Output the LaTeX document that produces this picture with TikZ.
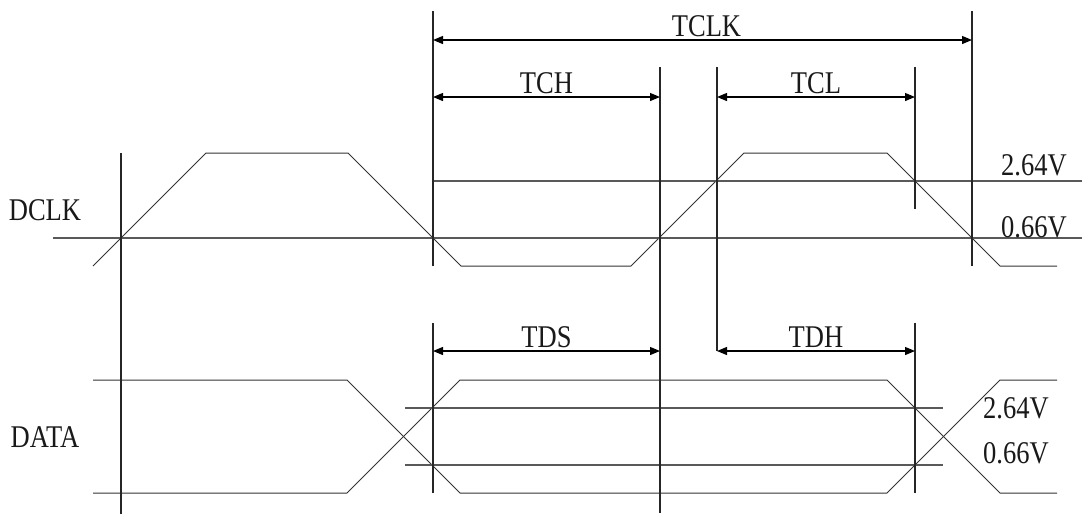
\documentclass[tikz,border=0pt]{standalone}
\usepackage{fontspec}
\setmainfont{Liberation Serif}[FakeStretch=0.84]
\usetikzlibrary{arrows.meta}

\begin{document}
\begin{tikzpicture}[
    x=0.5pt, y=-0.5pt,
    wave/.style={black!80, line width=0.5pt},
    level/.style={black!65, line width=0.6pt},
    marker/.style={black!85, line width=0.55pt},
    dim/.style={{Triangle[length=5pt,width=4pt]}-{Triangle[length=5pt,width=4pt]}, line width=0.6pt},
    lbl/.style={font=\fontsize{15.8}{18}\selectfont, text=black!90, inner sep=0pt}
]
\useasboundingbox (0,0) rectangle (1082,515);

% signal names
\node[lbl] (dclk) at (45,210) {DCLK};
\node[lbl] (data) at (45,437) {DATA};

% DCLK waveform and its levels
\draw[wave] (93,266) -- (206,153) -- (348,153) -- (461,266) -- (631,266)
            -- (744,153) -- (887,153) -- (1000,266) -- (1057,266);
\draw[level] (53,238) -- (1082,238);
\draw[level] (433,181) -- (1082,181);
\node[lbl] (vhiclk) at (1034,165) {2.64V};
\node[lbl] (vloclk) at (1034,227) {0.66V};

% DATA waveform and its levels
\draw[wave] (93,380) -- (347,380) -- (460,493) -- (887,493) -- (1000,380) -- (1057,380);
\draw[wave] (93,493) -- (347,493) -- (460,380) -- (887,380) -- (1000,493) -- (1057,493);
\draw[level] (405,408) -- (943,408);
\draw[level] (405,465) -- (943,465);
\node[lbl] (vhidat) at (1016,408) {2.64V};
\node[lbl] (vlodat) at (1016,453) {0.66V};

% marker lines
\draw[marker] (121,153) -- (121,514);
\draw[marker] (433,11) -- (433,266);
\draw[marker] (433,323) -- (433,493);
\draw[marker] (660,67) -- (660,513);
\draw[marker] (717,67) -- (717,351);
\draw[marker] (915,67) -- (915,209);
\draw[marker] (915,323) -- (915,493);
\draw[marker] (972,11) -- (972,266);

% dimension ends
\coordinate (clkA) at (433,40);   \coordinate (clkB) at (972,40);
\coordinate (chA)  at (433,97);   \coordinate (chB)  at (660,97);
\coordinate (clA)  at (717,97);   \coordinate (clB)  at (915,97);
\coordinate (dsA)  at (433,351);  \coordinate (dsB)  at (660,351);
\coordinate (dhA)  at (717,351);  \coordinate (dhB)  at (915,351);

\draw[dim] (clkA) -- node[lbl, anchor=base, xshift=2pt, yshift=2pt] (tclk) {TCLK} (clkB);
\draw[dim] (chA) -- node[lbl, anchor=base, yshift=2pt] (tch) {TCH} (chB);
\draw[dim] (clA) -- node[lbl, anchor=base, yshift=2pt] (tcl) {TCL} (clB);
\draw[dim] (dsA) -- node[lbl, anchor=base, yshift=2pt] (tds) {TDS} (dsB);
\draw[dim] (dhA) -- node[lbl, anchor=base, yshift=2pt] (tdh) {TDH} (dhB);

\end{tikzpicture}
\end{document}
